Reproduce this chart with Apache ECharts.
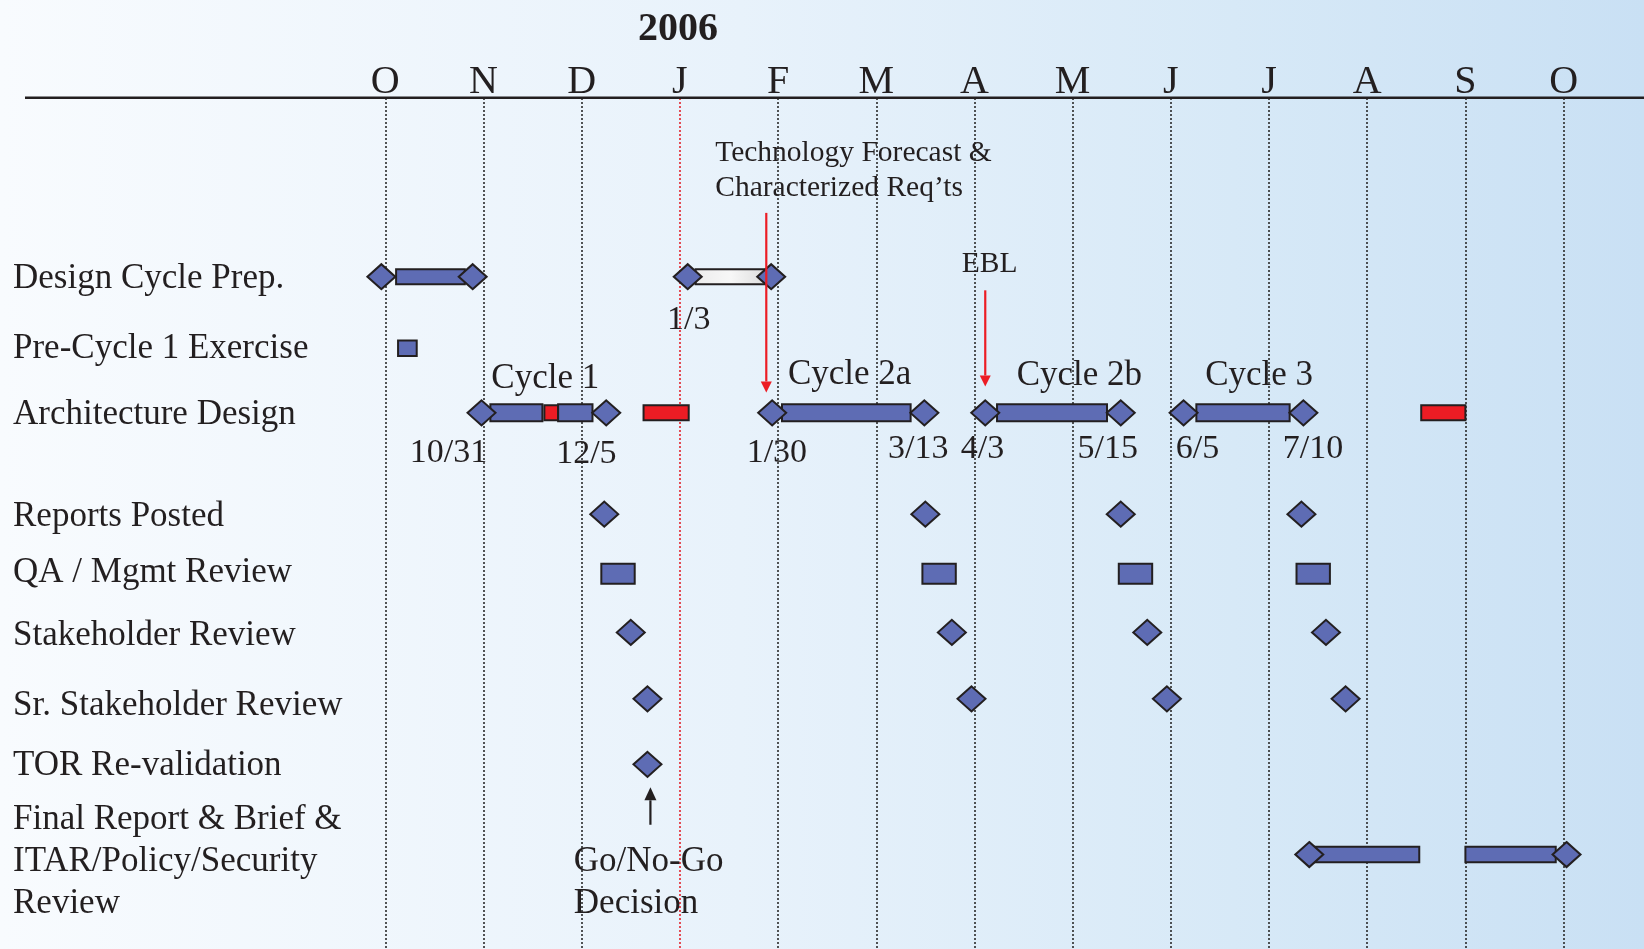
<!DOCTYPE html>
<html>
<head>
<meta charset="utf-8">
<title>Design Cycle Schedule 2006</title>
<script src="https://cdn.jsdelivr.net/npm/echarts@6/dist/echarts.min.js"></script>
<style>
html, body { margin: 0; padding: 0; }
#chart { width: 1644px; height: 949px; }
</style>
</head>
<body>
<div id="chart"></div>
<script>
// x axis: months since Oct 2005 (0 = Oct 1 2005, 12 = Oct 1 2006)
var monthLabels = ['O', 'N', 'D', 'J', 'F', 'M', 'A', 'M', 'J', 'J', 'A', 'S', 'O'];

var rowNames = [
	'Design Cycle Prep.',
	'Pre-Cycle 1 Exercise',
	'Architecture Design',
	'Reports Posted',
	'QA / Mgmt Review',
	'Stakeholder Review',
	'Sr. Stakeholder Review',
	'TOR Re-validation',
	'Final Report & Brief &\nITAR/Policy/Security\nReview'
];

// bars: [row, start, end, kind]
var tasks = [
	[0, 0.11, 0.81, 'blue'],
	[0, 3.16, 3.88, 'grey'],
	[1, 0.13, 0.32, 'blue'],
	[2, 1.07, 1.60, 'blue'],
	[2, 1.62, 1.76, 'red'],
	[2, 1.76, 2.11, 'blue'],
	[2, 2.63, 3.09, 'red'],
	[2, 4.04, 5.35, 'blue'],
	[2, 6.23, 7.35, 'blue'],
	[2, 8.26, 9.21, 'blue'],
	[2, 10.55, 11.00, 'red'],
	[4, 2.20, 2.54, 'blue'],
	[4, 5.47, 5.81, 'blue'],
	[4, 7.47, 7.81, 'blue'],
	[4, 9.28, 9.62, 'blue'],
	[8, 9.44, 10.53, 'blue'],
	[8, 11.00, 11.92, 'blue']
];

// diamonds: [row, month]
var milestones = [
	[0, -0.04], [0, 0.89], [0, 3.08], [0, 3.93],
	[2, 0.98], [2, 2.25], [2, 3.94], [2, 5.49], [2, 6.11], [2, 7.49], [2, 8.13], [2, 9.35],
	[3, 2.23], [3, 5.50], [3, 7.49], [3, 9.33],
	[5, 2.50], [5, 5.77], [5, 7.76], [5, 9.58],
	[6, 2.67], [6, 5.97], [6, 7.96], [6, 9.78],
	[7, 2.67],
	[8, 9.41], [8, 12.03]
];

// text notes: [text, month (left edge), lane, size]
var notes = [
	['Technology Forecast &\nCharacterized Req\u2019ts', 3.36, 8.6, 'small'],
	['EBL', 5.87, 19.5, 'small'],
	['1/3', 2.87, 26.1, 'date'],
	['Cycle 1', 1.08, 33.0, 'big'],
	['Cycle 2a', 4.10, 32.5, 'big'],
	['Cycle 2b', 6.43, 32.7, 'big'],
	['Cycle 3', 8.35, 32.7, 'big'],
	['10/31', 0.25, 41.7, 'date'],
	['12/5', 1.74, 41.8, 'date'],
	['1/30', 3.68, 41.7, 'date'],
	['3/13', 5.12, 41.3, 'date'],
	['4/3', 5.86, 41.3, 'date'],
	['5/15', 7.05, 41.3, 'date'],
	['6/5', 8.05, 41.3, 'date'],
	['7/10', 9.14, 41.3, 'date'],
	['Go/No-Go\nDecision', 1.92, 92.2, 'big']
];

// arrows: [month, from lane, to lane, colour]
var arrows = [
	[3.88, 13.5, 34.6, 'red'],
	[6.11, 22.6, 33.9, 'red'],
	[2.70, 85.4, 81.0, 'black']
];

// layout: vertical centre of each row, 0 = top of plot, 100 = bottom
var rowLane = [21.0, 29.4, 37.0, 48.9, 55.9, 62.8, 70.6, 78.3, 88.9];
var labelLane = [21.3, 29.5, 37.2, 49.2, 55.8, 63.2, 71.4, 78.5, 89.7];

var BLUE = '#5e6cb4';
var RED = '#ec1c24';
var INK = '#231f20';
var SERIF = '"Liberation Serif", "Times New Roman", serif';

var gridColors = monthLabels.map(function (m, i) {
	return i === 3 ? '#e3232c' : '#2b2b2b';
});

function barHeight(row, kind) {
	if (row === 4) return 20;
	if (row === 2) return kind === 'red' ? 15 : 17;
	if (row === 0) return 15;
	return 15.5;
}

var myChart = echarts.init(document.getElementById('chart'));

var option = {
	backgroundColor: {
		type: 'linear', x: 0, y: 0, x2: 1, y2: 0,
		colorStops: [
			{ offset: 0, color: '#f8fbfe' },
			{ offset: 0.45, color: '#e8f2fb' },
			{ offset: 0.75, color: '#d7e9f7' },
			{ offset: 1, color: '#c9e0f4' }
		]
	},
	animation: false,
	grid: { left: 385.3, right: 80.4, top: 98, bottom: 0 },
	xAxis: {
		type: 'value',
		position: 'top',
		min: 0,
		max: 12,
		interval: 1,
		axisLine: { show: false },
		axisTick: { show: false },
		axisLabel: {
			margin: -4,
			fontSize: 40,
			fontFamily: SERIF,
			color: INK,
			formatter: function (v) { return monthLabels[v]; }
		},
		splitLine: {
			show: true,
			lineStyle: { color: gridColors, width: 1.6, type: [2, 2] }
		}
	},
	yAxis: {
		type: 'value',
		min: 0,
		max: 100,
		inverse: true,
		show: false,
		splitLine: { show: false }
	},
	graphic: [
		{ type: 'line', shape: { x1: 25, y1: 97.7, x2: 1644, y2: 97.7 }, style: { stroke: INK, lineWidth: 2.4 }, z: 10 },
		{ type: 'text', x: 678, y: 30, style: { text: '2006', font: 'bold 40px ' + SERIF, fill: INK, align: 'center', verticalAlign: 'middle' }, z: 10 }
	],
	series: [
		{
			// row titles
			type: 'custom',
			data: rowNames.map(function (n, i) { return [0, labelLane[i]]; }),
			clip: false,
			silent: true,
			renderItem: function (params, api) {
				var p = api.coord([0, api.value(1)]);
				return {
					type: 'text',
					x: 13,
					y: p[1],
					style: {
						text: rowNames[params.dataIndex],
						fontSize: 35,
						fontFamily: SERIF,
						fill: INK,
						align: 'left',
						verticalAlign: 'middle',
						lineHeight: 42
					}
				};
			},
			z: 3
		},
		{
			// task bars
			type: 'custom',
			data: tasks.map(function (t) { return [t[1], t[2], rowLane[t[0]]]; }),
			encode: { x: [0, 1], y: 2 },
			clip: false,
			renderItem: function (params, api) {
				var t = tasks[params.dataIndex];
				var p0 = api.coord([api.value(0), api.value(2)]);
				var p1 = api.coord([api.value(1), api.value(2)]);
				var h = barHeight(t[0], t[3]);
				var fill = BLUE;
				if (t[3] === 'red') fill = RED;
				if (t[3] === 'grey') {
					fill = new echarts.graphic.LinearGradient(0, 0, 1, 0, [
						{ offset: 0, color: '#ececec' },
						{ offset: 0.5, color: '#f7f7f7' },
						{ offset: 1, color: '#dcdcdc' }
					]);
				}
				return {
					type: 'rect',
					shape: { x: p0[0], y: p0[1] - h / 2, width: p1[0] - p0[0], height: h },
					style: { fill: fill, stroke: INK, lineWidth: 2 }
				};
			},
			z: 4
		},
		{
			// milestones
			type: 'scatter',
			data: milestones.map(function (m) { return [m[1], rowLane[m[0]]]; }),
			symbol: 'diamond',
			symbolSize: [28, 25],
			clip: false,
			itemStyle: { color: BLUE, borderColor: INK, borderWidth: 2, opacity: 1 },
			z: 5
		},
		{
			// notes
			type: 'custom',
			data: notes.map(function (n) { return [n[1], n[2]]; }),
			clip: false,
			silent: true,
			renderItem: function (params, api) {
				var n = notes[params.dataIndex];
				var p = api.coord([api.value(0), api.value(1)]);
				var size = n[3] === 'small' ? 29.5 : (n[3] === 'date' ? 34 : 35);
				return {
					type: 'text',
					x: p[0],
					y: p[1],
					style: {
						text: n[0],
						fontSize: size,
						fontFamily: SERIF,
						fill: INK,
						align: 'left',
						verticalAlign: 'middle',
						lineHeight: n[3] === 'small' ? 35 : 42
					}
				};
			},
			z: 6
		},
		{
			// arrows
			type: 'custom',
			data: arrows.map(function (a) { return [a[0], a[1], a[2]]; }),
			clip: false,
			silent: true,
			renderItem: function (params, api) {
				var a = arrows[params.dataIndex];
				var from = api.coord([api.value(0), api.value(1)]);
				var to = api.coord([api.value(0), api.value(2)]);
				var col = a[3] === 'red' ? RED : INK;
				var dir = to[1] > from[1] ? 1 : -1;
				var head = a[3] === 'red' ? 11 : 13;
				var hw = a[3] === 'red' ? 5.5 : 6;
				return {
					type: 'group',
					children: [
						{
							type: 'line',
							shape: { x1: from[0], y1: from[1], x2: to[0], y2: to[1] - dir * head },
							style: { stroke: col, lineWidth: 2.2 }
						},
						{
							type: 'polygon',
							shape: { points: [[to[0], to[1]], [to[0] - hw, to[1] - dir * head], [to[0] + hw, to[1] - dir * head]] },
							style: { fill: col }
						}
					]
				};
			},
			z: 7
		}
	]
};
myChart.setOption(option);
</script>
</body>
</html>
